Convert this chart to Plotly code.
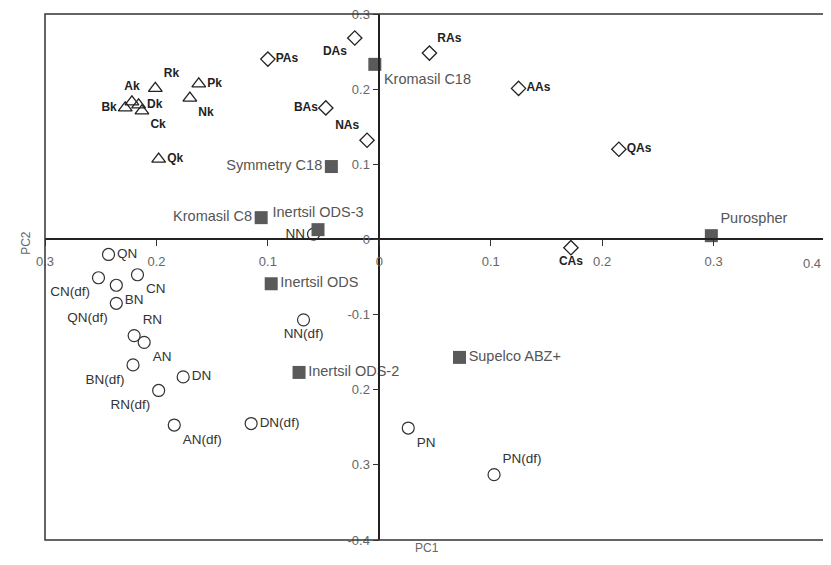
import plotly.graph_objects as go

# ---- data ----
k_names = ["Rk", "Pk", "Nk", "Ak", "Bk", "Dk", "Ck", "Qk"]
k_pc1 = [-0.201, -0.162, -0.170, -0.222, -0.228, -0.216, -0.213, -0.198]
k_pc2 = [0.201, 0.207, 0.188, 0.183, 0.175, 0.179, 0.171, 0.107]

as_names = ["PAs", "DAs", "RAs", "AAs", "BAs", "NAs", "QAs", "CAs"]
as_pc1 = [-0.100, -0.022, 0.045, 0.125, -0.048, -0.011, 0.215, 0.172]
as_pc2 = [0.240, 0.268, 0.248, 0.201, 0.175, 0.132, 0.120, -0.011]

col_names = ["Kromasil C18", "Symmetry C18", "Kromasil C8", "Inertsil ODS-3",
             "Inertsil ODS", "Inertsil ODS-2", "Supelco ABZ+", "Purospher"]
col_pc1 = [-0.004, -0.043, -0.106, -0.055, -0.097, -0.072, 0.072, 0.298]
col_pc2 = [0.233, 0.097, 0.029, 0.013, -0.059, -0.177, -0.157, 0.005]

n_names = ["QN", "CN(df)", "CN", "BN", "QN(df)", "RN", "AN", "BN(df)", "DN",
           "RN(df)", "AN(df)", "DN(df)", "NN(df)", "NN", "PN", "PN(df)"]
n_pc1 = [-0.243, -0.252, -0.217, -0.236, -0.236, -0.220, -0.211, -0.221, -0.176,
         -0.198, -0.184, -0.115, -0.068, -0.059, 0.026, 0.103]
n_pc2 = [-0.020, -0.051, -0.047, -0.061, -0.085, -0.128, -0.137, -0.167, -0.183,
         -0.201, -0.247, -0.245, -0.107, 0.007, -0.251, -0.313]

x_tickvals = [-0.3, -0.2, -0.1, 0, 0.1, 0.2, 0.3, 0.4]
x_ticktext = ["0.3", "0.2", "0.1", "0", "0.1", "0.2", "0.3", "0.4"]
y_tickvals = [-0.4, -0.3, -0.2, -0.1, 0, 0.1, 0.2, 0.3]
y_ticktext = ["-0.4", "0.3", "0.2", "-0.1", "0", "0.1", "0.2", "0.3"]

# ---- label placement (style) ----
k_pos = ["top right", "middle right", "bottom right", "top center",
         "middle left", "middle right", "bottom right", "middle right"]
as_pos = ["middle right", "bottom left", "top right", "middle right",
          "middle left", "top left", "middle right", "bottom center"]
col_pos = ["bottom right", "middle left", "middle left", "top center",
           "middle right", "middle right", "middle right", "top right"]
n_pos = ["middle right", "bottom left", "bottom right", "bottom right", "bottom left",
         "top right", "bottom right", "bottom left", "middle right", "bottom left",
         "bottom right", "middle right", "bottom center", "middle left",
         "bottom right", "top right"]

FONT = "Liberation Sans, Arial, sans-serif"
TICKFONT = dict(family=FONT, size=13, color="#666")

fig = go.Figure()
fig.add_trace(go.Scatter(
    x=k_pc1, y=k_pc2, text=k_names, mode="markers+text", textposition=k_pos,
    marker=dict(symbol="triangle-up-open", size=12, color="#222", line=dict(width=1.3)),
    textfont=dict(family=FONT, size=12, color="#222", weight="bold"), showlegend=False))
fig.add_trace(go.Scatter(
    x=as_pc1, y=as_pc2, text=as_names, mode="markers+text", textposition=as_pos,
    marker=dict(symbol="diamond-open", size=11, color="#222", line=dict(width=1.3)),
    textfont=dict(family=FONT, size=12, color="#222", weight="bold"), showlegend=False))
fig.add_trace(go.Scatter(
    x=n_pc1, y=n_pc2, text=n_names, mode="markers+text", textposition=n_pos,
    marker=dict(symbol="circle-open", size=12, color="#333", line=dict(width=1.2)),
    textfont=dict(family=FONT, size=13.5, color="#333"), showlegend=False))
fig.add_trace(go.Scatter(
    x=col_pc1, y=col_pc2, text=col_names, mode="markers+text", textposition=col_pos,
    marker=dict(symbol="square", size=13, color="#5a5a5a"),
    textfont=dict(family=FONT, size=14.5, color="#555"), showlegend=False))

axis_common = dict(showgrid=False, zeroline=False, showline=True, linecolor="#222",
                   linewidth=1.5, ticks="outside", ticklen=6, tickcolor="#333",
                   tickfont=TICKFONT, anchor="free", automargin=False)

# the last x tick label sits on the frame edge; draw it right-aligned so it stays inside
x_shown_text = x_ticktext[:-1] + [""]

# page body adds an 8px offset, so the figure is sized to fit the 831x565 window
fig.update_layout(
    width=823, height=557,
    margin=dict(l=37, r=6, t=6, b=25),
    paper_bgcolor="white", plot_bgcolor="white",
    xaxis=dict(range=[-0.3, 0.4], tickvals=x_tickvals, ticktext=x_shown_text,
               position=0.4 / 0.7, ticklabelstandoff=4, ticklabeloverflow="allow",
               **axis_common),
    yaxis=dict(range=[-0.4, 0.3], tickvals=y_tickvals, ticktext=y_ticktext,
               position=0.3 / 0.7, ticklabeloverflow="allow", **axis_common),
    shapes=[dict(type="rect", xref="paper", yref="paper", x0=0, x1=1, y0=0, y1=1,
                 line=dict(color="#333", width=1.5), layer="above")],
    annotations=[
        dict(text=x_ticktext[-1], xref="x", yref="y", x=x_tickvals[-1], y=0,
             xanchor="right", yanchor="top", xshift=-2, yshift=-15, showarrow=False,
             font=TICKFONT),
        dict(text="PC1", xref="paper", yref="paper", x=0.49, y=0, yshift=-17,
             showarrow=False, font=dict(family=FONT, size=12, color="#666")),
        dict(text="PC2", xref="paper", yref="paper", x=0, xshift=-28, y=0.565,
             textangle=-90, showarrow=False, font=dict(family=FONT, size=12, color="#666")),
    ],
)

fig.write_html("out.html")
